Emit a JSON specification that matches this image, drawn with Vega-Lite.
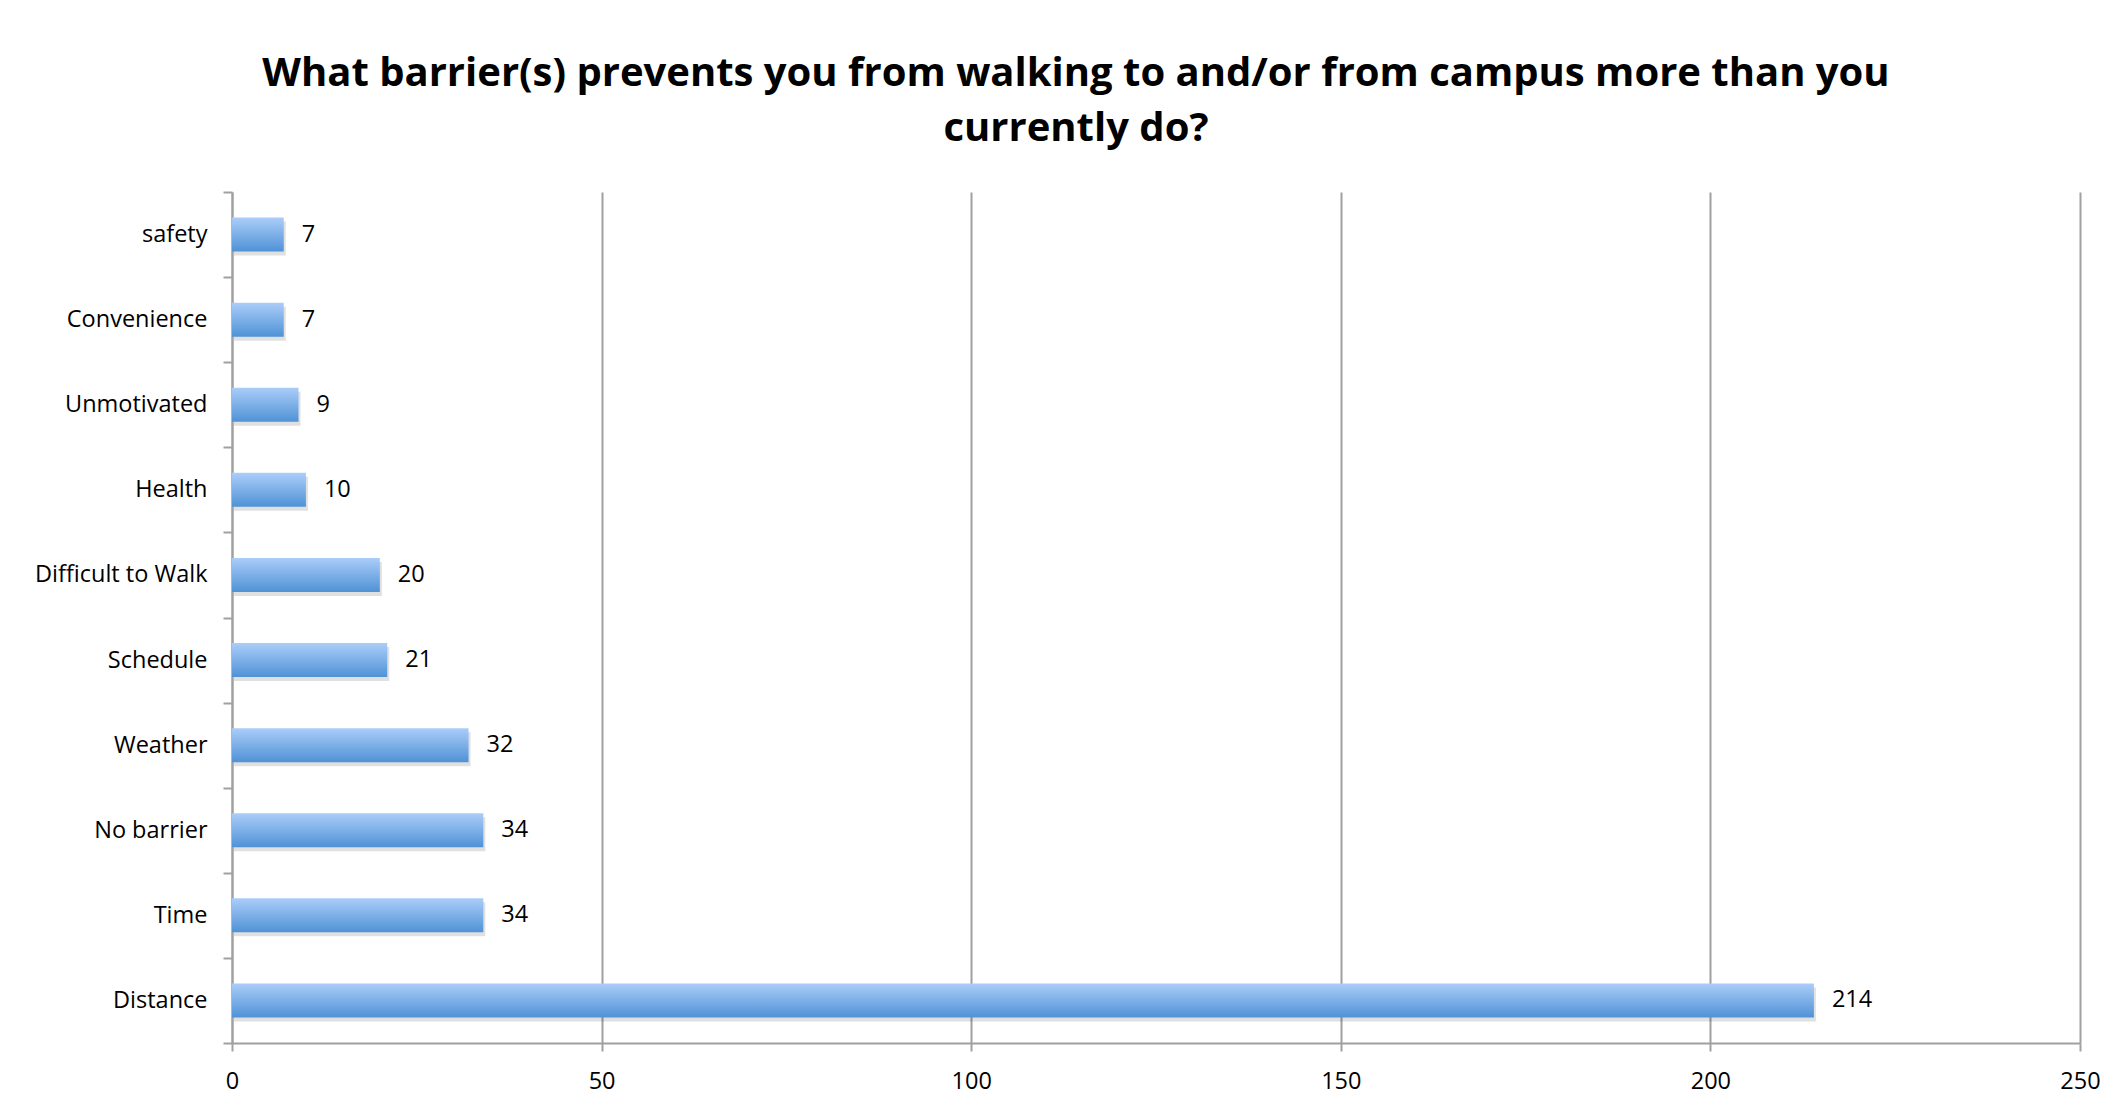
{
  "$schema": "https://vega.github.io/schema/vega-lite/v6.json",
  "autosize": {"type": "none"},
  "width": 1848,
  "height": 851,
  "padding": {"left": 232, "top": 192, "right": 33, "bottom": 62},
  "background": "white",
  "title": {
    "text": ["What barrier(s) prevents you from walking to and/or from campus more than you", "currently do?"],
    "font": "Open Sans",
    "fontWeight": "bold",
    "fontSize": 40,
    "lineHeight": 55,
    "color": "#000000",
    "anchor": "middle",
    "frame": "group",
    "dx": -80,
    "offset": 31
  },
  "data": {
    "values": [
      {"barrier": "safety", "count": 7},
      {"barrier": "Convenience", "count": 7},
      {"barrier": "Unmotivated", "count": 9},
      {"barrier": "Health", "count": 10},
      {"barrier": "Difficult to Walk", "count": 20},
      {"barrier": "Schedule", "count": 21},
      {"barrier": "Weather", "count": 32},
      {"barrier": "No barrier", "count": 34},
      {"barrier": "Time", "count": 34},
      {"barrier": "Distance", "count": 214}
    ]
  },
  "encoding": {
    "y": {
      "field": "barrier",
      "type": "nominal",
      "sort": null,
      "scale": {"paddingInner": 0, "paddingOuter": 0},
      "axis": {
        "title": null,
        "tickBand": "extent",
        "grid": false,
        "domainColor": "#A0A0A0",
        "domainWidth": 2,
        "tickColor": "#A0A0A0",
        "tickWidth": 2,
        "tickSize": 9,
        "labelPadding": 16,
        "labelFont": "Open Sans",
        "labelFontSize": 23.5,
        "labelColor": "#000000"
      }
    },
    "x": {
      "field": "count",
      "type": "quantitative",
      "scale": {"domain": [0, 250]},
      "axis": {
        "title": null,
        "values": [0, 50, 100, 150, 200, 250],
        "grid": true,
        "gridColor": "#A0A0A0",
        "gridWidth": 2,
        "domainColor": "#A0A0A0",
        "domainWidth": 2,
        "tickColor": "#A0A0A0",
        "tickWidth": 2,
        "tickSize": 8,
        "labelPadding": 18,
        "labelFont": "Open Sans",
        "labelFontSize": 23.5,
        "labelColor": "#000000",
        "labelFlush": false
      }
    }
  },
  "layer": [
    {
      "mark": {"type": "bar", "height": {"band": 0.4}, "color": "#000000", "opacity": 0.12, "yOffset": 4, "xOffset": 2}
    },
    {
      "mark": {
        "type": "bar",
        "height": {"band": 0.4},
        "color": {
          "gradient": "linear",
          "x1": 0, "y1": 0, "x2": 0, "y2": 1,
          "stops": [
            {"offset": 0, "color": "#ABCDF9"},
            {"offset": 1, "color": "#4F92D6"}
          ]
        }
      }
    },
    {
      "mark": {"type": "text", "align": "left", "baseline": "middle", "dx": 18, "font": "Open Sans", "fontSize": 23.5, "color": "#000000"},
      "encoding": {"text": {"field": "count", "type": "quantitative"}}
    }
  ],
  "config": {"view": {"stroke": null}}
}
